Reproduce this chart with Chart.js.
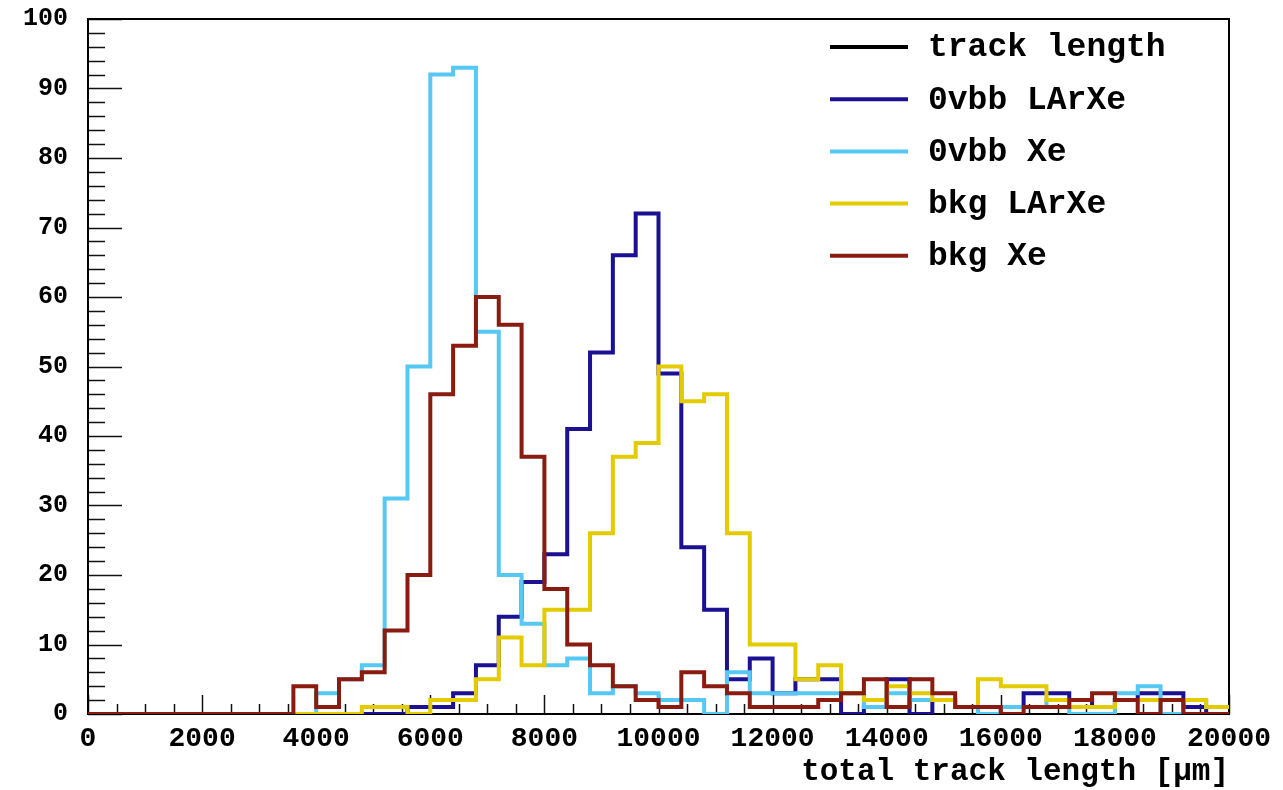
<!DOCTYPE html>
<html>
<head>
<meta charset="utf-8">
<script src="https://cdn.jsdelivr.net/npm/chart.js@4.4.1/dist/chart.umd.min.js"></script>
<style>
  html, body { margin: 0; padding: 0; background: #ffffff; }
  canvas { display: block; }
</style>
</head>
<body>
<canvas id="hist" width="1283" height="790"></canvas>
<script>
// Bin edges of the track-length histograms (um), 400 um wide bins
const binEdges = [
  0, 400, 800, 1200, 1600, 2000, 2400, 2800, 3200, 3600,
  4000, 4400, 4800, 5200, 5600, 6000, 6400, 6800, 7200, 7600,
  8000, 8400, 8800, 9200, 9600, 10000, 10400, 10800, 11200, 11600,
  12000, 12400, 12800, 13200, 13600, 14000, 14400, 14800, 15200, 15600,
  16000, 16400, 16800, 17200, 17600, 18000, 18400, 18800, 19200, 19600,
  20000
];

// Entries per bin for each sample
const ovbbLArXe = [
  0, 0, 0, 0, 0, 0, 0, 0, 0, 0,
  0, 0, 0, 0, 1, 1, 3, 7, 14, 19,
  23, 41, 52, 66, 72, 49, 24, 15, 5, 8,
  3, 5, 5, 0, 1, 5, 0, 2, 1, 0,
  1, 3, 3, 2, 1, 2, 3, 3, 1, 0
];
const ovbbXe = [
  0, 0, 0, 0, 0, 0, 0, 0, 0, 0,
  3, 5, 7, 31, 50, 92, 93, 55, 20, 13,
  7, 8, 3, 4, 3, 2, 2, 0, 6, 3,
  3, 3, 3, 3, 1, 3, 2, 2, 1, 0,
  1, 1, 2, 0, 0, 3, 4, 0, 2, 1
];
const bkgLArXe = [
  0, 0, 0, 0, 0, 0, 0, 0, 0, 0,
  0, 0, 1, 1, 0, 2, 2, 5, 11, 7,
  15, 15, 26, 37, 39, 50, 45, 46, 26, 10,
  10, 5, 7, 3, 2, 4, 3, 2, 1, 5,
  4, 4, 2, 1, 1, 2, 2, 2, 2, 1
];
const bkgXe = [
  0, 0, 0, 0, 0, 0, 0, 0, 0, 4,
  1, 5, 6, 12, 20, 46, 53, 60, 56, 37,
  18, 10, 7, 4, 2, 1, 6, 4, 3, 1,
  1, 1, 2, 3, 5, 1, 5, 3, 1, 1,
  0, 1, 1, 2, 3, 2, 0, 2, 0, 0
];

const seriesNames = ['0vbb LArXe', '0vbb Xe', 'bkg LArXe', 'bkg Xe'];
const seriesCounts = [ovbbLArXe, ovbbXe, bkgLArXe, bkgXe];
const seriesColors = ['#1b1192', '#55c8f4', '#e4cb00', '#8a1b10'];
const legendHeader = 'track length';
const xAxisTitle = 'total track length [\u03bcm]';

const xRange = [0, 20000];
const yRange = [0, 100];

const MONO = "'Liberation Mono', 'DejaVu Sans Mono', monospace";

// Outline of a histogram: flat top across every bin, vertical steps at the edges
function histogramOutline(counts) {
  const pts = [];
  counts.forEach((v, i) => {
    pts.push({ x: binEdges[i], y: v });
    pts.push({ x: binEdges[i + 1], y: v });
  });
  return pts;
}

// Frame plus inward-pointing major/minor tick marks
const frameAndTicks = {
  id: 'frameAndTicks',
  beforeDatasetsDraw(chart) {
    const { ctx, chartArea: a, scales: { x, y } } = chart;
    ctx.save();
    ctx.strokeStyle = '#111111';
    ctx.lineWidth = 1.5;
    ctx.beginPath();
    for (let v = xRange[0]; v <= xRange[1]; v += 500) {
      const px = Math.round(x.getPixelForValue(v)) + 0.5;
      const len = v % 2000 === 0 ? 19 : 10;
      ctx.moveTo(px, a.bottom);
      ctx.lineTo(px, a.bottom - len);
    }
    for (let v = yRange[0]; v <= yRange[1]; v += 2) {
      const py = Math.round(y.getPixelForValue(v)) + 0.5;
      const len = v % 10 === 0 ? 34 : 17;
      ctx.moveTo(a.left, py);
      ctx.lineTo(a.left + len, py);
    }
    ctx.stroke();
    ctx.lineWidth = 2;
    ctx.strokeStyle = '#000000';
    ctx.strokeRect(a.left, a.top, a.right - a.left, a.bottom - a.top);
    ctx.restore();
  }
};

// Legend box in the upper right of the plot area
const insetLegend = {
  id: 'insetLegend',
  afterDraw(chart) {
    const { ctx, chartArea: a } = chart;
    const entries = [{ text: legendHeader, color: '#000000' }].concat(
      chart.data.datasets.map(ds => ({ text: ds.label, color: ds.borderColor }))
    );
    const lineX0 = a.right - 399;
    const lineX1 = a.right - 321;
    const textX = a.right - 301;
    ctx.save();
    ctx.font = 'bold 33px ' + MONO;
    ctx.textBaseline = 'middle';
    ctx.textAlign = 'left';
    entries.forEach((e, k) => {
      const cy = a.top + 28 + k * 52.2;
      ctx.strokeStyle = e.color;
      ctx.lineWidth = 4;
      ctx.beginPath();
      ctx.moveTo(lineX0, cy);
      ctx.lineTo(lineX1, cy);
      ctx.stroke();
      ctx.fillStyle = '#000000';
      ctx.fillText(e.text, textX, cy + 1);
    });
    ctx.restore();
  }
};

const datasets = seriesNames.map((name, i) => ({
  label: name,
  data: histogramOutline(seriesCounts[i]),
  borderColor: seriesColors[i],
  backgroundColor: seriesColors[i],
  borderWidth: 4,
  borderJoinStyle: 'miter',
  borderCapStyle: 'butt',
  fill: false,
  pointRadius: 0,
  pointHoverRadius: 0,
  tension: 0,
  order: seriesNames.length - i
}));

new Chart(document.getElementById('hist'), {
  type: 'line',
  data: { datasets },
  plugins: [frameAndTicks, insetLegend],
  options: {
    responsive: false,
    animation: false,
    events: [],
    layout: { padding: { top: 19, right: 54, left: 0, bottom: 0 } },
    plugins: {
      legend: { display: false },
      tooltip: { enabled: false },
      title: { display: false }
    },
    scales: {
      x: {
        type: 'linear',
        min: xRange[0],
        max: xRange[1],
        grid: { display: false, drawTicks: false },
        border: { display: false },
        ticks: {
          stepSize: 2000,
          autoSkip: false,
          maxRotation: 0,
          padding: 8,
          color: '#000000',
          font: { family: MONO, size: 28, weight: 'bold' },
          callback: v => String(v)
        },
        title: {
          display: true,
          text: xAxisTitle,
          align: 'end',
          color: '#000000',
          font: { family: MONO, size: 31, weight: 'bold', lineHeight: 1 },
          padding: { top: 0, bottom: 2 }
        },
        afterFit(scale) {
          scale.height = 76;
          scale.paddingLeft = 0;
          scale.paddingRight = 0;
        }
      },
      y: {
        type: 'linear',
        min: yRange[0],
        max: yRange[1],
        grid: { display: false, drawTicks: false },
        border: { display: false },
        ticks: {
          stepSize: 10,
          padding: 20,
          color: '#000000',
          font: { family: MONO, size: 25, weight: 'bold' },
          callback: v => String(v)
        },
        afterFit(scale) {
          scale.width = 88;
          scale.paddingTop = 0;
          scale.paddingBottom = 0;
        }
      }
    }
  }
});
</script>
</body>
</html>
